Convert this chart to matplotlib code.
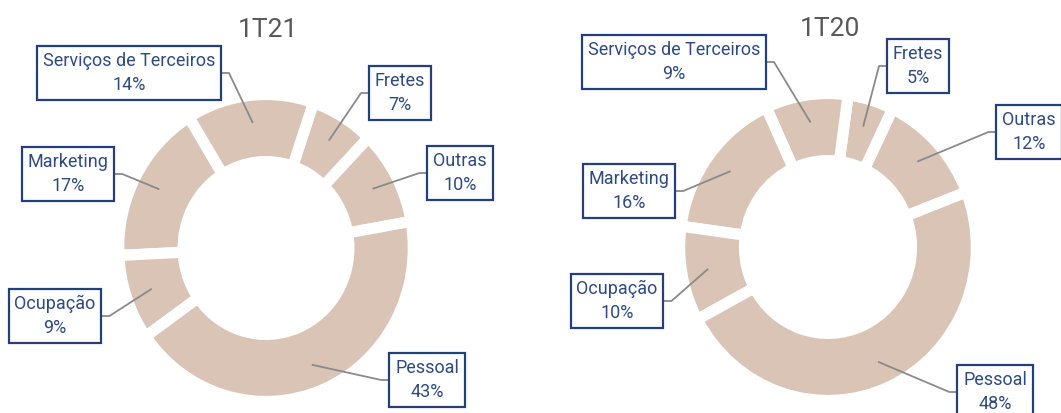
import numpy as np
import matplotlib.pyplot as plt

plt.rcParams["font.family"] = ["Roboto", "DejaVu Sans"]

categories = ["Outras", "Fretes", "Serviços de Terceiros", "Marketing", "Ocupação", "Pessoal"]
shares_1t21 = [10, 7, 14, 17, 9, 43]
shares_1t20 = [12, 5, 9, 16, 10, 48]
titles = ["1T21", "1T20"]

W, H = 1061, 413
wedge_col = "#d9c4b5"
navy = "#23407a"
txt_col = "#2f4b80"
line_col = "#8a8a8a"

# layout per chart: axes span (px), donut center (px), px per unit (x, y), start angle
charts = [
    dict(vals=shares_1t21, title=titles[0], x0=0, x1=530, cx=266, cy=248, sx=143, sy=149, start=10,
         boxes=[(460, 173), (400, 93), (129, 73), (68, 174), (55, 316), (427, 380)],
         title_xy=(268, 30)),
    dict(vals=shares_1t20, title=titles[1], x0=530, x1=1061, cx=828, cy=247, sx=144, sy=149, start=21,
         boxes=[(1029, 132), (918, 66), (674, 62), (629, 191), (617, 301), (995, 392)],
         title_xy=(830, 29)),
]

fig = plt.figure(figsize=(W / 100, H / 100), dpi=100)
pending = []

for c in charts:
    ax = fig.add_axes([c["x0"] / W, 0, (c["x1"] - c["x0"]) / W, 1])
    sx, sy, cx, cy = c["sx"], c["sy"], c["cx"], c["cy"]
    wedges, _ = ax.pie(c["vals"], startangle=c["start"], counterclock=True,
                       colors=[wedge_col] * len(c["vals"]), radius=1.03,
                       wedgeprops=dict(width=0.45, edgecolor="white", linewidth=8))
    ax.set_xlim((c["x0"] - cx) / sx, (c["x1"] - cx) / sx)
    ax.set_ylim((cy - H) / sy, cy / sy)
    ax.set_aspect("auto")
    ax.axis("off")

    for w, cat, v, (bx, by) in zip(wedges, categories, c["vals"], c["boxes"]):
        mid = np.deg2rad((w.theta1 + w.theta2) / 2)
        anchor = (0.85 * np.cos(mid), 0.85 * np.sin(mid))
        t = ax.text((bx - cx) / sx, (cy - by) / sy, f"{cat}\n{v}%", ha="center", va="center",
                    fontsize=13, color=txt_col, linespacing=1.45, zorder=4,
                    bbox=dict(boxstyle="square,pad=0.32", fc="white", ec=navy, lw=1.6))
        pending.append((ax, t, anchor))

    fig.text(c["title_xy"][0] / W, 1 - c["title_xy"][1] / H, c["title"], ha="center", va="center",
             fontsize=19, color="#585858")

# connectors: short horizontal stub out of the box, then straight to the slice
fig.canvas.draw()
rend = fig.canvas.get_renderer()
for ax, t, anchor in pending:
    bb = t.get_bbox_patch().get_window_extent(rend)
    ad = ax.transData.transform(anchor)
    ym = (bb.y0 + bb.y1) / 2
    if bb.x1 < ad[0]:
        edge, elbow = bb.x1, bb.x1 + 8
    else:
        edge, elbow = bb.x0, bb.x0 - 8
    pts = ax.transData.inverted().transform([(edge, ym), (elbow, ym), ad])
    ax.plot(pts[:, 0], pts[:, 1], color=line_col, lw=1.3, zorder=3, clip_on=False)

fig.savefig("out.png", dpi=100)
